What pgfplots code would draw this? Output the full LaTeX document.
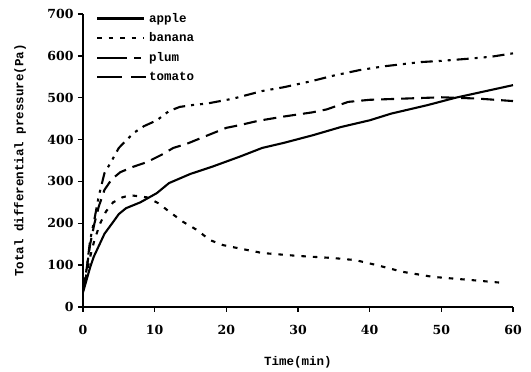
\documentclass[border=0pt]{standalone}
\usepackage{fontspec}
\setmainfont{DejaVu Serif}
\newfontfamily\monob{Liberation Mono}
\usepackage{pgfplots}
\pgfplotsset{compat=1.18}
\pgfplotsset{
  longleg/.style={legend image code/.code={\draw[##1, line width=2.1pt] (0pt,0pt) -- (47pt,0pt);}},
  plumleg/.style={legend image code/.code={\draw[##1, line width=2.1pt, dash pattern=on 30pt off 7pt on 7pt off 20pt] (0pt,0pt) -- (44pt,0pt);}},
  tomleg/.style={legend image code/.code={\draw[##1, line width=2.1pt, dash pattern=on 25pt off 9pt on 15pt off 20pt] (0pt,0pt) -- (49pt,0pt);}},
}
\begin{document}
\begin{tikzpicture}
\begin{axis}[
  name=ax,
  scale only axis, width=430pt, height=293pt,
  xmin=0, xmax=60, ymin=0, ymax=700,
  axis x line=bottom, axis y line=left,
  axis line style={-, line width=1.8pt},
  xtick={0,10,...,60}, ytick={0,100,...,700},
  tick align=outside, major tick length=5pt,
  tick style={line width=1.5pt, black},
  /pgf/number format/assume math mode=true,
  ticklabel style={font=\fontsize{12.5}{14}\selectfont\bfseries},
  xticklabel style={yshift=-10pt},
  yticklabel style={xshift=-1pt},
  xlabel={\monob\bfseries Time(min)},
  ylabel={\monob\bfseries Total differential pressure(Pa)},
  label style={font=\fontsize{12.5}{14}\selectfont},
  xlabel style={at={(axis description cs:0.5,-0.19)}, anchor=center},
  ylabel style={at={(axis description cs:-0.1465,0.5)}, anchor=center},
  legend style={draw=none, fill=none, at={(axis description cs:0.03,1.01)}, anchor=north west,
    font=\fontsize{12.5}{14}\selectfont\monob\bfseries, row sep=5pt, inner sep=0pt},
  legend cell align=left,
]
\addplot[black, line width=2.1pt, no marks, solid, longleg] coordinates {
(0,35) (0.5,65) (1,95) (1.5,120) (2.4,153) (3,175) (4.2,203) (5,222) (6,236) (8,250) (10.3,272) (12,296) (15,318) (18,335) (22,360) (25,380) (28,392) (32,410) (36,430) (40,446) (43,462) (48,482) (52,500) (56,515) (60,530)
};
\addlegendentry{apple}
\addplot[black, line width=2.1pt, no marks, dash pattern=on 4.5pt off 7pt, longleg] coordinates {
(0,40) (0.5,80) (1,120) (1.6,160) (2.4,200) (3.2,228) (4.2,250) (5.5,262) (6.6,267) (8.9,262) (10.5,248) (12.1,227) (14,203) (15.9,184) (17.7,160) (19.5,148) (21.5,141) (25,129) (30,122) (34.9,117) (38,112) (41,100) (44.6,84) (48.8,72) (54.4,64) (59,57)
};
\addlegendentry{banana}
\addplot[black, line width=2.1pt, no marks, dash pattern=on 12pt off 6pt on 3pt off 6pt on 3pt off 6pt, plumleg] coordinates {
(0,40) (0.5,90) (1,160) (1.6,210) (2.2,265) (3,320) (3.8,343) (5,380) (7,415) (8.5,432) (10.3,446) (12,468) (13.5,478) (15.5,483) (17.3,486) (21,498) (25,516) (28,525) (32,540) (35,553) (38.6,566) (42,575) (47,585) (50,588) (54.4,594) (57,598) (60,606)
};
\addlegendentry{plum}
\addplot[black, line width=2.1pt, no marks, dash pattern=on 13pt off 7pt, tomleg] coordinates {
(0,40) (0.5,90) (1,150) (1.6,200) (2.2,240) (3,280) (4,305) (5.2,322) (7,335) (8.9,346) (11,364) (12.6,380) (14.5,390) (16.8,406) (20,428) (22,435) (24.5,445) (28,455) (32,465) (34,472) (37,490) (40,495) (45,498) (50,501) (55,498) (60,492)
};
\addlegendentry{tomato}
\end{axis}
\path ([xshift=-83pt,yshift=-65pt]ax.south west) rectangle ([xshift=18pt,yshift=14pt]ax.north east);
\end{tikzpicture}
\end{document}
